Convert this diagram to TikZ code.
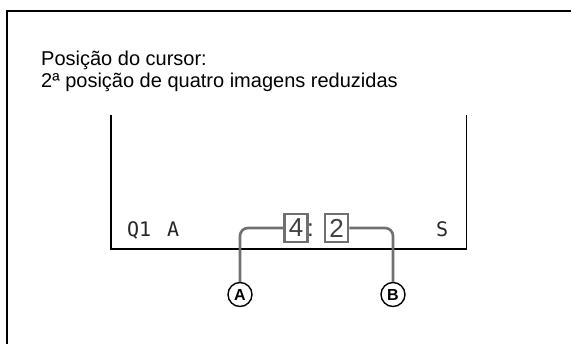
\documentclass[tikz,border=0pt]{standalone}
\usepackage{fontspec}
\setmainfont{Liberation Sans}
\newfontfamily\lcdfont{DejaVu Sans Mono}
\definecolor{conngray}{HTML}{707070}
\begin{document}
\begin{tikzpicture}[x=1pt,y=1pt,
  frameline/.style={line width=2.2pt, black},
  screenline/.style={line width=1.3pt, black},
  conn/.style={line width=2.6pt, conngray, rounded corners=8pt},
  lcd/.style={font=\lcdfont\fontsize{20}{20}\selectfont, text=black!85, inner sep=0pt, anchor=base west},
  numbox/.style={draw=conngray, line width=2.6pt, minimum width=23pt, minimum height=28pt, inner sep=0pt, font=\fontsize{26}{26}\selectfont, text=black!75},
  callout/.style={circle, draw=black, line width=1.4pt, minimum size=24pt, inner sep=0pt, font=\fontsize{16}{16}\selectfont\bfseries},
  title/.style={font=\fontsize{20}{22}\selectfont, inner sep=0pt, anchor=base west}]
\useasboundingbox (0,0) rectangle (571,-344);
% outer frame (top and left only)
\coordinate (ftr) at (571,-10.7);
\coordinate (ftl) at (7.3,-10.7);
\coordinate (fbl) at (7.3,-344);
\draw[frameline] (ftr) -- (ftl) -- (fbl);
% title
\node[title] (t1) at (41,-66) {Posição do cursor:};
\node[title] (t2) at (41,-88) {2ª posição de quatro imagens reduzidas};
% screen
\coordinate (sl) at (111,-115);
\coordinate (sbl) at (111,-249);
\coordinate (sbr) at (466.7,-249);
\coordinate (sr) at (466.7,-115);
\draw[screenline] (sl) -- (sbl) -- (sbr) -- (sr);
% screen texts
\node[lcd] (q1) at (127,-236.5) {Q1};
\node[lcd] (qa) at (167,-236.5) {A};
\node[lcd] (qs) at (436,-236.5) {S};
% number boxes
\node[numbox] (b4) at (296,-228) {4};
\node[font=\fontsize{24}{24}\selectfont, text=black!80, inner sep=0pt, anchor=base] (colon) at (310.5,-237) {:};
\node[numbox] (b2) at (336.5,-228) {2};
% callouts
\node[callout] (ca) at (240,-294.5) {A};
\node[callout] (cb) at (393,-294.5) {B};
\draw[conn] (b4.west) -| (ca.north);
\draw[conn] (b2.east) -| (cb.north);
\end{tikzpicture}
\end{document}
